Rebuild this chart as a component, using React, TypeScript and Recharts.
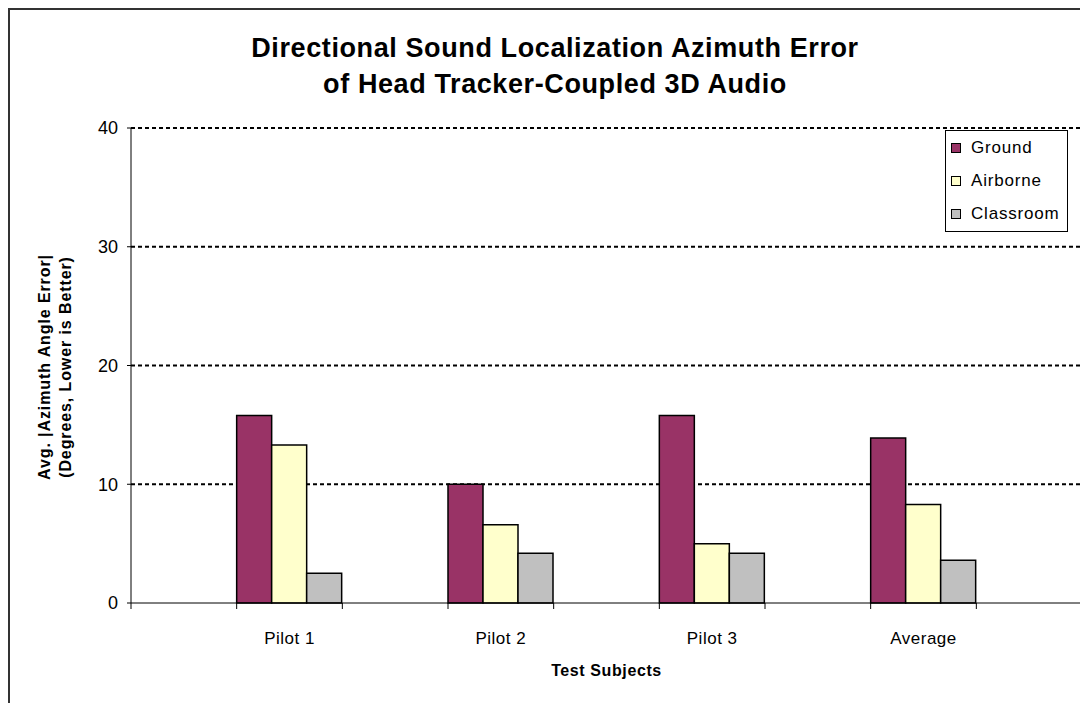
import React from 'react';
import { BarChart, Bar, XAxis, YAxis, CartesianGrid } from 'recharts';

const categories = ['Pilot 1', 'Pilot 2', 'Pilot 3', 'Average'];
const ground = [15.8, 10.0, 15.8, 13.9];
const airborne = [13.3, 6.6, 5.0, 8.3];
const classroom = [2.5, 4.2, 4.2, 3.6];
const yTicks = [0, 10, 20, 30, 40];

const seriesInfo = [
  { key: 'ground', name: 'Ground', color: '#993366' },
  { key: 'airborne', name: 'Airborne', color: '#FFFFCC' },
  { key: 'classroom', name: 'Classroom', color: '#C0C0C0' },
];

// Excel leaves an empty slot before, between and after every category
const SLOTS = categories.length * 2 + 1;
const rows = Array.from({ length: SLOTS }, (_, i) => {
  if (i % 2 === 0) return { slot: `s${i}`, label: '' };
  const c = (i - 1) / 2;
  return { slot: `s${i}`, label: categories[c], ground: ground[c], airborne: airborne[c], classroom: classroom[c] };
});

const FONT = '"Liberation Sans", Arial, Helvetica, sans-serif';
const W = 1080;
const H = 695;
const margin = { top: 120, right: 4, left: 63, bottom: 0 };
const X_AXIS_H = 100;
const Y_AXIS_W = 60;
const R_AXIS_W = 2;
const plotW = W - margin.left - Y_AXIS_W - margin.right - R_AXIS_W;
const slotW = plotW / SLOTS;

const SlotTick: React.FC<any> = ({ x, y, payload, index }) => {
  const i = index ?? payload?.index ?? 0;
  const left = x - slotW / 2;
  const right = x + slotW / 2;
  const label = rows[i]?.label;
  return (
    <g>
      <line x1={left} y1={y} x2={left} y2={y + 6} stroke="#000" />
      {i === SLOTS - 1 && <line x1={right} y1={y} x2={right} y2={y + 6} stroke="#808080" strokeWidth={2} />}
      {label && (
        <text x={x} y={y + 41} textAnchor="middle" fontSize={17} fontFamily={FONT} fill="#000" letterSpacing={0.5}>
          {label}
        </text>
      )}
    </g>
  );
};

const LegendBox: React.FC = () => (
  <div
    style={{
      position: 'absolute',
      left: 937,
      top: 122,
      width: 123,
      height: 102,
      border: '1px solid #000',
      boxSizing: 'border-box',
      background: '#fff',
      fontFamily: FONT,
      fontSize: 17,
      letterSpacing: 0.8,
    }}
  >
    {seriesInfo.map((s) => (
      <div key={s.key} style={{ height: 33.3, display: 'flex', alignItems: 'center' }}>
        <span
          style={{
            display: 'inline-block',
            width: 8,
            height: 8,
            marginLeft: 5,
            marginRight: 10,
            background: s.color,
            border: '1px solid #000',
          }}
        />
        <span>{s.name}</span>
      </div>
    ))}
  </div>
);

export default function App() {
  return (
    <div style={{ position: 'relative', width: W, height: H, overflow: 'hidden' }}>
      {/* chart frame: right and bottom edges fall outside the window */}
      <div style={{ position: 'absolute', left: 0, top: 0, width: W + 20, height: H + 20, border: '2px solid #333', boxSizing: 'border-box' }} />
      <div
        style={{
          position: 'absolute',
          left: 0,
          top: 22,
          width: 1094,
          textAlign: 'center',
          fontFamily: FONT,
          fontWeight: 'bold',
          fontSize: 27,
          letterSpacing: 0.6,
          lineHeight: '36px',
        }}
      >
        Directional Sound Localization Azimuth Error
        <br />
        of Head Tracker-Coupled 3D Audio
      </div>
      <div style={{ position: 'absolute', left: 0, top: 0 }}>
        <BarChart width={W} height={H} data={rows} margin={margin} barGap={0} barCategoryGap={0}>
          <CartesianGrid vertical={false} horizontalValues={[10, 20, 30, 40]} stroke="#000" strokeWidth={2} strokeDasharray="4 3" />
          <XAxis
            dataKey="slot"
            interval={0}
            tickSize={0}
            tickMargin={0}
            tickLine={false}
            axisLine={{ stroke: '#000' }}
            tick={<SlotTick />}
            height={X_AXIS_H}
            label={{
              content: ({ viewBox }: any) => (
                <text
                  x={viewBox.x + viewBox.width / 2}
                  y={viewBox.y + 73}
                  textAnchor="middle"
                  fontFamily={FONT}
                  fontWeight="bold"
                  fontSize={16}
                  letterSpacing={0.6}
                  fill="#000"
                >
                  Test Subjects
                </text>
              ),
            }}
          />
          <YAxis
            domain={[0, 40]}
            ticks={yTicks}
            width={Y_AXIS_W}
            tickSize={4}
            tickMargin={9}
            axisLine={{ stroke: '#000' }}
            tickLine={{ stroke: '#000' }}
            tick={{ fontSize: 18, fontFamily: FONT, fill: '#000' }}
            label={{
              content: () => {
                const cy = 359;
                return (
                  <g fontFamily={FONT} fontWeight="bold" fontSize={16} fill="#000" letterSpacing={0.9}>
                    <text x={36} y={cy} transform={`rotate(-90 36 ${cy})`} textAnchor="middle" dominantBaseline="central">
                      Avg. |Azimuth Angle Error|
                    </text>
                    <text x={57} y={cy} transform={`rotate(-90 57 ${cy})`} textAnchor="middle" dominantBaseline="central">
                      (Degrees, Lower is Better)
                    </text>
                  </g>
                );
              },
            }}
          />
          {/* right side of the plot frame */}
          <YAxis
            yAxisId="r"
            orientation="right"
            domain={[0, 40]}
            ticks={yTicks}
            width={R_AXIS_W}
            tick={false}
            tickLine={false}
            axisLine={{ stroke: '#808080', strokeWidth: 2 }}
          />
          {seriesInfo.map((s) => (
            <Bar
              key={s.key}
              dataKey={s.key}
              name={s.name}
              yAxisId={s.key === 'classroom' ? 'r' : 0}
              fill={s.color}
              stroke="#000"
              strokeWidth={1.5}
              isAnimationActive={false}
            />
          ))}
        </BarChart>
        <LegendBox />
      </div>
    </div>
  );
}
